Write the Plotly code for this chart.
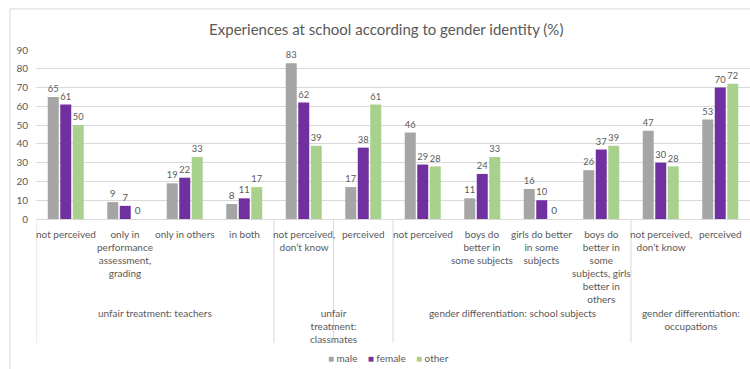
import plotly.graph_objects as go

# Survey answers (%) by gender identity
categories = [
    "not perceived",
    "only in<br>performance<br>assessment,<br>grading",
    "only in others",
    "in both",
    "not perceived,<br>don’t know",
    "perceived",
    "not perceived",
    "boys do<br>better in<br>some subjects",
    "girls do better<br>in some<br>subjects",
    "boys do<br>better in<br>some<br>subjects, girls<br>better in<br>others",
    "not perceived,<br>don’t know",
    "perceived",
]
groups = [
    "unfair treatment: teachers",
    "unfair<br>treatment:<br>classmates",
    "gender differentiation: school subjects",
    "gender differentiation:<br>occupations",
]
group_sizes = [4, 2, 4, 2]

male = [65, 9, 19, 8, 83, 17, 46, 11, 16, 26, 47, 53]
female = [61, 7, 22, 11, 62, 38, 29, 24, 10, 37, 30, 70]
other = [50, 0, 33, 17, 39, 61, 28, 33, 0, 39, 28, 72]

series = [("male", male, "#A5A5A5"), ("female", female, "#7030A0"), ("other", other, "#A9D18E")]

FONT = "Lato"
TXT = "#595959"
LINE = "#D9D9D9"

xpos = list(range(len(categories)))
fig = go.Figure()
for name, vals, col in series:
    fig.add_trace(go.Bar(
        x=xpos, y=vals, name=name, marker=dict(color=col, line=dict(width=0)),
        text=[str(v) for v in vals], textposition="outside",
        textfont=dict(family=FONT, size=10, color=TXT), cliponaxis=False,
        showlegend=False,
    ))

annotations = []
# category labels
for i, lab in enumerate(categories):
    annotations.append(dict(
        x=i, xref="x", y=-0.04, yref="paper", text=lab, showarrow=False,
        yanchor="top", xanchor="center", align="center",
        font=dict(family=FONT, size=10, color=TXT),
    ))

# group labels and separators
shapes = []
start = 0
bounds = [-0.5]
for g, n in zip(groups, group_sizes):
    centre = start + (n - 1) / 2
    annotations.append(dict(
        x=centre, xref="x", y=-0.51, yref="paper", text=g, showarrow=False,
        yanchor="top", xanchor="center", align="center",
        font=dict(family=FONT, size=10, color=TXT),
    ))
    start += n
    bounds.append(start - 0.5)
bounds.insert(2, 4.5)

for b in bounds[:-1]:
    shapes.append(dict(type="line", xref="x", yref="paper", x0=b, x1=b, y0=0, y1=-0.734,
                       line=dict(color=LINE, width=1)))

# legend row
legend_text = "&nbsp;&nbsp;&nbsp;&nbsp;".join(
    f"<span style='color:{col}'>■</span> {name}" for name, _, col in series
)
annotations.append(dict(
    x=0.493, xref="paper", y=-0.822, yref="paper", text=legend_text, showarrow=False,
    xanchor="center", yanchor="middle", font=dict(family=FONT, size=10, color=TXT),
))

# outer frame
shapes.append(dict(type="rect", xref="paper", yref="paper", x0=-0.0364, x1=1.02, y0=-0.95, y1=1.243,
                   line=dict(color=LINE, width=1), layer="below"))

fig.update_layout(
    width=750, height=369,
    margin=dict(l=36, r=0, t=50, b=150),
    paper_bgcolor="white", plot_bgcolor="white",
    barmode="group", bargap=0.37, bargroupgap=0.12,
    showlegend=False,
    title=dict(text="Experiences at school according to gender identity (%)",
               x=0.515, xanchor="center", y=0.919, yanchor="middle",
               font=dict(family=FONT, size=15, color=TXT)),
    xaxis=dict(range=[-0.5, 11.5], showticklabels=False, showgrid=False, zeroline=False,
               showline=False, fixedrange=True),
    yaxis=dict(range=[0, 90], dtick=10, showgrid=True, gridcolor=LINE, gridwidth=1,
               zeroline=True, zerolinecolor=LINE, zerolinewidth=1, showline=False,
               ticks="outside", ticklen=5, tickcolor="rgba(0,0,0,0)",
               tickfont=dict(family=FONT, size=10, color=TXT)),
    annotations=annotations, shapes=shapes,
    font=dict(family=FONT, color=TXT),
)

fig.write_html("out.html")
